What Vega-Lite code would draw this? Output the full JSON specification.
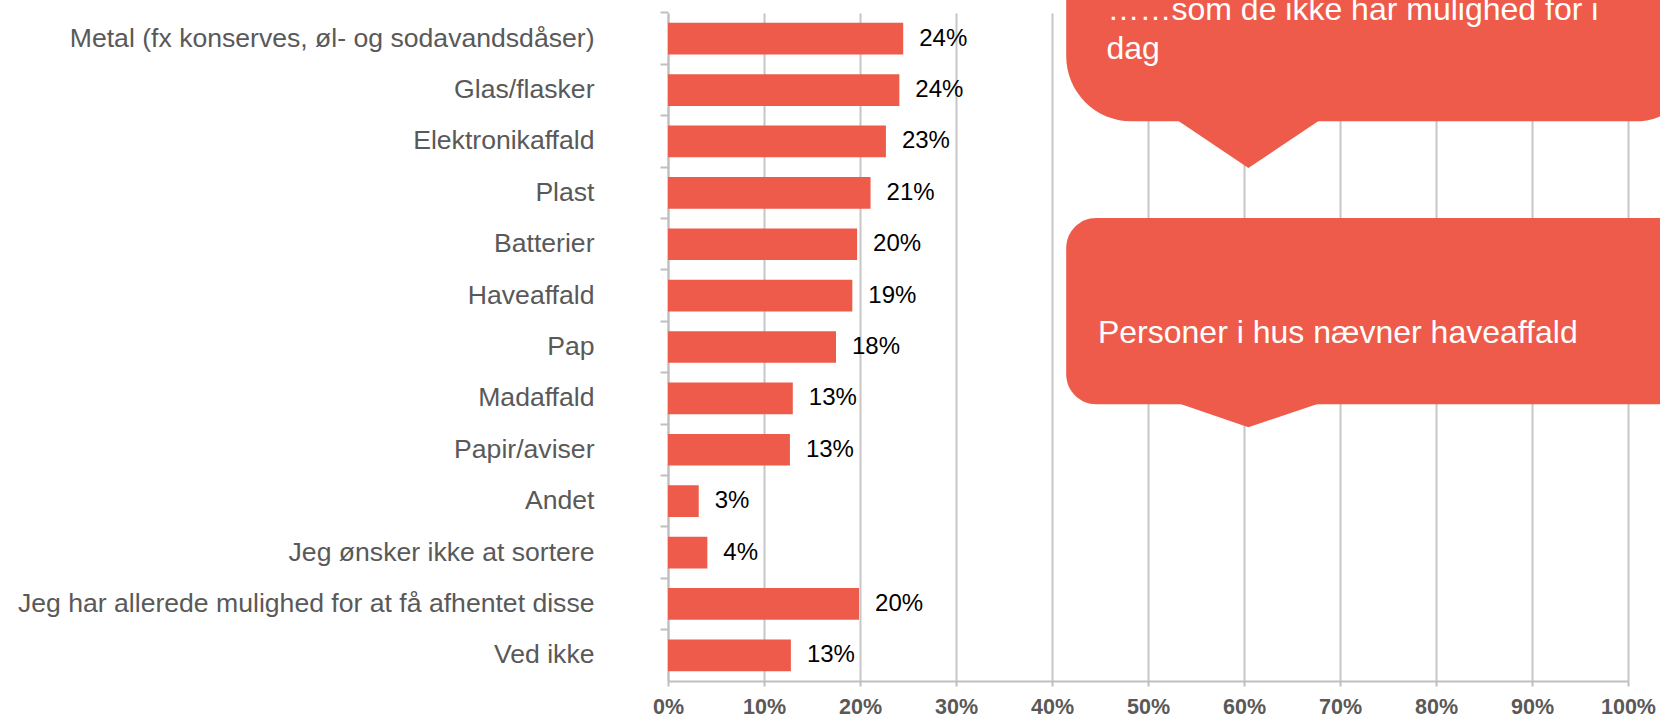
{
  "$schema": "https://vega.github.io/schema/vega-lite/v6.json",
  "width": 960,
  "height": 668,
  "autosize": {"type": "none"},
  "padding": {"left": 668, "top": 13, "right": 32, "bottom": 36},
  "background": "white",
  "config": {"view": {"stroke": null}, "font": "Liberation Sans"},
  "layer": [
    {
      "data": {
        "values": [
          {"category": "Metal (fx konserves, øl- og sodavandsdåser)", "value": 24.5, "label": "24%"},
          {"category": "Glas/flasker", "value": 24.1, "label": "24%"},
          {"category": "Elektronikaffald", "value": 22.7, "label": "23%"},
          {"category": "Plast", "value": 21.1, "label": "21%"},
          {"category": "Batterier", "value": 19.7, "label": "20%"},
          {"category": "Haveaffald", "value": 19.2, "label": "19%"},
          {"category": "Pap", "value": 17.5, "label": "18%"},
          {"category": "Madaffald", "value": 13.0, "label": "13%"},
          {"category": "Papir/aviser", "value": 12.7, "label": "13%"},
          {"category": "Andet", "value": 3.2, "label": "3%"},
          {"category": "Jeg ønsker ikke at sortere", "value": 4.1, "label": "4%"},
          {"category": "Jeg har allerede mulighed for at få afhentet disse", "value": 19.9, "label": "20%"},
          {"category": "Ved ikke", "value": 12.8, "label": "13%"}
        ]
      },
      "encoding": {
        "y": {
          "field": "category", "type": "nominal", "sort": null,
          "scale": {"paddingInner": 0.383, "paddingOuter": 0.1915},
          "axis": {
            "title": null, "labelFont": "Liberation Sans", "labelFontSize": 26.6,
            "labelColor": "#595959", "labelPadding": 66, "labelLimit": 800,
            "tickSize": 8, "tickColor": "#BFBFBF", "tickWidth": 2,
            "domainColor": "#BFBFBF", "domainWidth": 2,
            "bandPosition": -0.3105, "grid": false
          }
        },
        "x": {
          "field": "value", "type": "quantitative",
          "scale": {"domain": [0, 100], "nice": false},
          "axis": {
            "title": null, "values": [0, 10, 20, 30, 40, 50, 60, 70, 80, 90, 100],
            "labelExpr": "datum.value + '%'", "labelFont": "Liberation Sans",
            "labelFontSize": 21.5, "labelFontWeight": "bold", "labelColor": "#595959",
            "labelFlush": false, "labelPadding": 10,
            "grid": true, "gridColor": "#C6C6C6", "gridWidth": 2,
            "domainColor": "#BFBFBF", "domainWidth": 2,
            "tickColor": "#BFBFBF", "tickWidth": 2, "tickSize": 5
          }
        }
      },
      "layer": [
        {"mark": {"type": "bar", "color": "#EE5B4A"}},
        {
          "mark": {"type": "text", "align": "left", "baseline": "middle", "dx": 16, "fontSize": 24, "color": "#000000", "font": "Liberation Sans"},
          "encoding": {"text": {"field": "label"}}
        }
      ]
    },
    {
      "layer": [
        {
          "data": {"values": [{"x": 41.48, "x2": 107.5, "y": -2.5, "y2": 2.109}]},
          "mark": {"type": "rect", "color": "#EE5B4A", "cornerRadius": 65},
          "encoding": {
            "x": {"field": "x", "type": "quantitative", "scale": {"domain": [0, 100], "nice": false}, "axis": {"title": null}},
            "x2": {"field": "x2"},
            "y": {"field": "y", "type": "quantitative", "scale": {"domain": [0, 13], "reverse": true, "nice": false, "zero": false}, "axis": null},
            "y2": {"field": "y2"}
          }
        },
        {
          "data": {"values": [{"x": 41.48, "x2": 107.5, "y": 3.988, "y2": 7.615}]},
          "mark": {"type": "rect", "color": "#EE5B4A", "cornerRadius": 30},
          "encoding": {
            "x": {"field": "x", "type": "quantitative", "scale": {"domain": [0, 100], "nice": false}, "axis": {"title": null}},
            "x2": {"field": "x2"},
            "y": {"field": "y", "type": "quantitative", "scale": {"domain": [0, 13], "reverse": true, "nice": false, "zero": false}, "axis": null},
            "y2": {"field": "y2"}
          }
        },
        {
          "data": {
            "values": [
              {"callout": "a", "x": 52.36, "y": 2.0, "y2": 2.0},
              {"callout": "a", "x": 60.46, "y": 2.0, "y2": 3.016},
              {"callout": "a", "x": 68.58, "y": 2.0, "y2": 2.0},
              {"callout": "b", "x": 52.47, "y": 7.55, "y2": 7.55},
              {"callout": "b", "x": 60.46, "y": 7.55, "y2": 8.062},
              {"callout": "b", "x": 68.58, "y": 7.55, "y2": 7.55}
            ]
          },
          "mark": {"type": "area", "color": "#EE5B4A", "opacity": 1},
          "encoding": {
            "x": {"field": "x", "type": "quantitative", "scale": {"domain": [0, 100], "nice": false}, "axis": {"title": null}},
            "y": {"field": "y", "type": "quantitative", "scale": {"domain": [0, 13], "reverse": true, "nice": false, "zero": false}, "axis": null},
            "y2": {"field": "y2"},
            "detail": {"field": "callout"}
          }
        },
        {
          "data": {
            "values": [
              {"x": 45.78, "y": 0.144, "text": "……som de ikke har mulighed for i"},
              {"x": 45.67, "y": 0.889, "text": "dag"},
              {"x": 44.79, "y": 6.42, "text": "Personer i hus nævner haveaffald"}
            ]
          },
          "mark": {"type": "text", "align": "left", "baseline": "alphabetic", "fontSize": 32, "color": "#FFFFFF", "font": "Liberation Sans"},
          "encoding": {
            "x": {"field": "x", "type": "quantitative", "scale": {"domain": [0, 100], "nice": false}, "axis": {"title": null}},
            "y": {"field": "y", "type": "quantitative", "scale": {"domain": [0, 13], "reverse": true, "nice": false, "zero": false}, "axis": null},
            "text": {"field": "text"}
          }
        }
      ]
    }
  ],
  "resolve": {"scale": {"y": "independent"}, "axis": {"y": "independent"}}
}
